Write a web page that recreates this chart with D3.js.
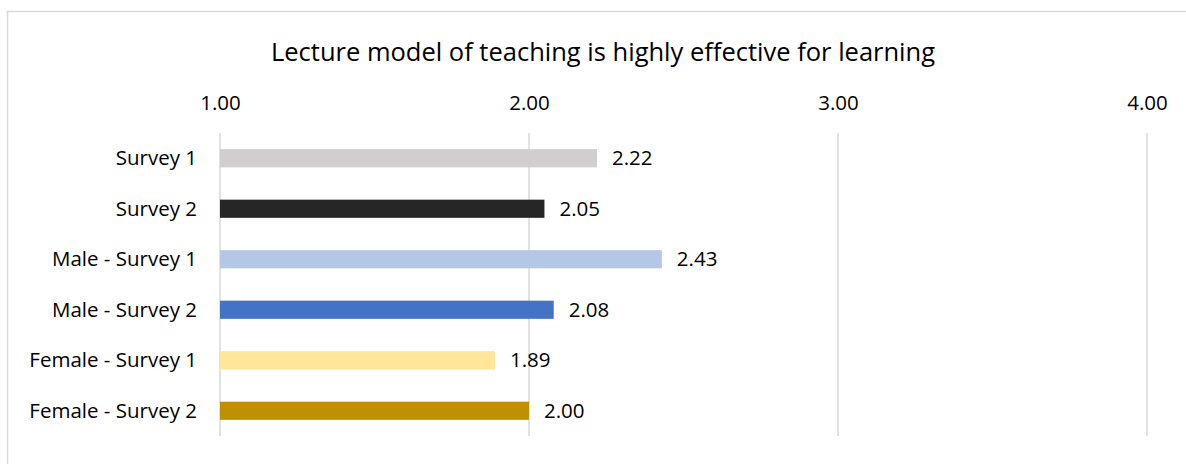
<!DOCTYPE html>
<html>
<head>
<meta charset="utf-8">
<script src="https://cdn.jsdelivr.net/npm/d3@7"></script>
<style>
  html, body { margin: 0; padding: 0; background: #fff; }
  svg { display: block; font-family: "Open Sans", "Noto Sans", sans-serif; }
</style>
</head>
<body>
<div id="chart"></div>
<script>
// chart data
const categories = ['Survey 1', 'Survey 2', 'Male - Survey 1', 'Male - Survey 2', 'Female - Survey 1', 'Female - Survey 2']
const values = [2.22, 2.05, 2.43, 2.08, 1.89, 2.00]
const barColors = ['#d0cece', '#262626', '#b4c7e7', '#4472c4', '#ffe699', '#bf9000']
const tickValues = [1, 2, 3, 4]
const title = 'Lecture model of teaching is highly effective for learning'

const width = 1186
const height = 464
const margin = { top: 133, right: 39, bottom: 28, left: 220 }
const labelSize = 20.5

const svg = d3.select('#chart').append('svg')
    .attr('width', width)
    .attr('height', height)

// outer chart border
svg.append('rect')
    .attr('x', 7.5)
    .attr('y', 11.5)
    .attr('width', width + 10)
    .attr('height', height + 10)
    .attr('fill', 'none')
    .attr('stroke', '#d9d9d9')
    .attr('stroke-width', 1.5)

const x = d3.scaleLinear()
    .domain([1, 4])
    .range([margin.left, width - margin.right])

const y = d3.scaleBand()
    .domain(categories)
    .range([margin.top, height - margin.bottom])
    .paddingInner(0.64)
    .paddingOuter(0.32)

// gridlines
svg.append('g')
    .selectAll('line')
    .data(tickValues)
    .join('line')
    .attr('x1', d => x(d))
    .attr('x2', d => x(d))
    .attr('y1', margin.top)
    .attr('y2', height - margin.bottom)
    .attr('stroke', '#d9d9d9')
    .attr('stroke-width', 1.5)

// top axis labels
const axis = svg.append('g')
    .attr('transform', `translate(0, ${margin.top - 20})`)
    .call(d3.axisTop(x).tickValues(tickValues).tickFormat(d3.format('.2f')).tickSize(0))
axis.select('.domain').remove()
axis.selectAll('text')
    .attr('fill', '#000')
    .attr('font-size', labelSize)
    .attr('font-family', '"Open Sans", sans-serif')
    .attr('dy', 0)

// category labels
svg.append('g')
    .selectAll('text')
    .data(categories)
    .join('text')
    .attr('x', margin.left - 23)
    .attr('y', d => y(d) + y.bandwidth() / 2)
    .attr('dy', '0.35em')
    .attr('text-anchor', 'end')
    .attr('font-size', labelSize)
    .attr('fill', '#000')
    .text(d => d)

// bars
svg.append('g')
    .selectAll('rect')
    .data(values)
    .join('rect')
    .attr('x', x(1))
    .attr('y', (d, i) => y(categories[i]))
    .attr('width', d => x(d) - x(1))
    .attr('height', y.bandwidth())
    .attr('fill', (d, i) => barColors[i])

// value labels
svg.append('g')
    .selectAll('text')
    .data(values)
    .join('text')
    .attr('x', d => x(d) + 15)
    .attr('y', (d, i) => y(categories[i]) + y.bandwidth() / 2)
    .attr('dy', '0.35em')
    .attr('font-size', labelSize)
    .attr('fill', '#000')
    .text(d => d3.format('.2f')(d))

// title
svg.append('text')
    .attr('x', 603)
    .attr('y', 61)
    .attr('text-anchor', 'middle')
    .attr('font-size', 25.5)
    .attr('fill', '#000')
    .text(title)
</script>
</body>
</html>
